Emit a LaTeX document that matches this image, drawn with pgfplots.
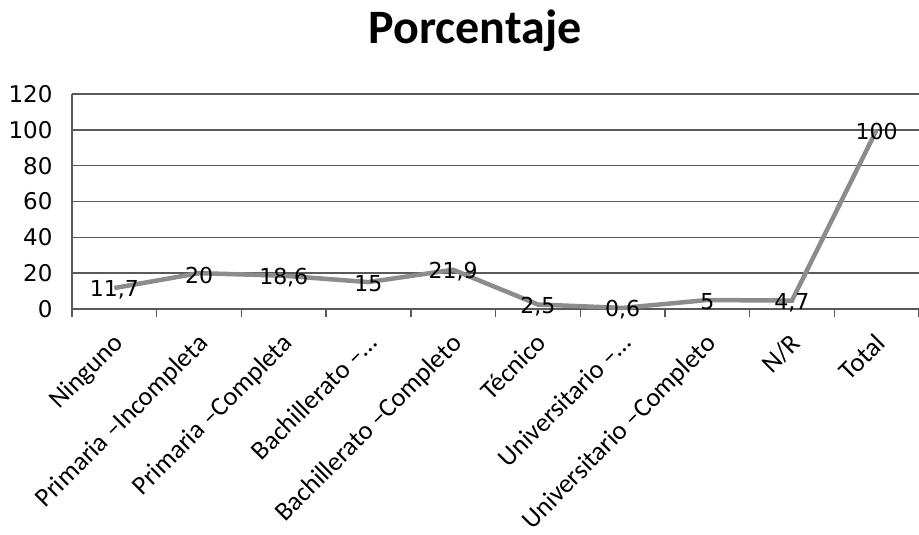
\documentclass[border=0pt]{standalone}
\usepackage{pgfplots}
\pgfplotsset{compat=1.18}
\usepackage{fontspec}
\setmainfont{DejaVu Sans}
\newfontfamily\titlefont{Carlito}
\definecolor{linegray}{RGB}{140,140,140}
\definecolor{gridgray}{RGB}{90,90,90}
\begin{document}
\begin{tikzpicture}
\begin{axis}[name=ax, scale only axis, width=847pt, height=215pt,
  xmin=-0.5, xmax=9.5, ymin=0, ymax=120, ytick={0,20,...,120},
  xtick={0,...,9},
  xticklabels={Ninguno, Primaria –Incompleta, Primaria –Completa, Bachillerato –…, Bachillerato –Completo, Técnico, Universitario –…, Universitario –Completo, N/R, Total},
  minor xtick={-0.5,0.5,...,9.5},
  major tick length=0pt, minor tick length=8pt, tick align=outside,
  minor tick style={gridgray, line width=1.4pt},
  ymajorgrids, major grid style={gridgray, line width=1.4pt},
  axis x line*=bottom, axis y line*=left,
  axis line style={gridgray, line width=1.4pt, -},
  /pgf/number format/assume math mode=true,
  yticklabel style={font=\fontsize{23}{23}\selectfont, xshift=-16pt},
  xticklabel style={xshift=-3pt, yshift=-18pt, rotate=45, anchor=north east, font=\titlefont\fontsize{26.5}{26.5}\selectfont},
  clip=false,
  title={\bfseries Porcentaje},
  title style={font=\titlefont\fontsize{48}{48}\selectfont, at={(rel axis cs:0.476,1.205)}, anchor=base},
  point meta=explicit symbolic,
  nodes near coords,
  nodes near coords style={anchor=center, font=\fontsize{22}{22}\selectfont, text=black, yshift=-2pt},
]
\addplot[linegray, line width=4.5pt] table[x=x, y=y, meta=lab] {
x y lab
0 11.7 {11,7}
1 20 {20}
2 18.6 {18,6}
3 15 {15}
4 21.9 {21,9}
5 2.5 {2,5}
6 0.6 {0,6}
7 5 {5}
8 4.7 {4,7}
9 100 {100}
};
\end{axis}
\pgfresetboundingbox
\path ([shift={(-72pt,-226pt)}]ax.south west) rectangle ([shift={(0pt,94pt)}]ax.north east);
\end{tikzpicture}
\end{document}
